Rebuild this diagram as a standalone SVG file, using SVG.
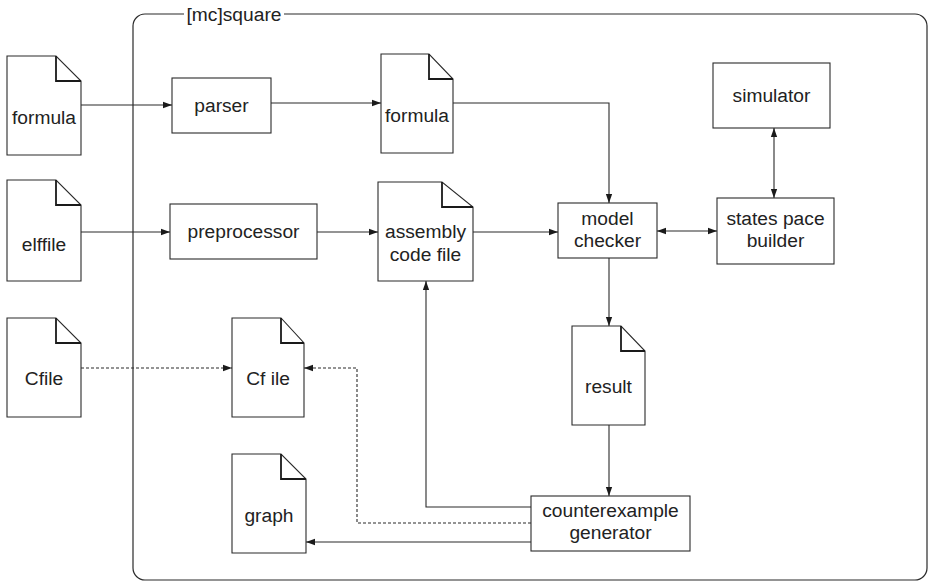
<svg xmlns="http://www.w3.org/2000/svg" width="929" height="581" viewBox="0 0 929 581">
  <style>
    .frame { fill: none; stroke: #2a2a2a; stroke-width: 1.2; }
    .box { fill: #fff; stroke: #2a2a2a; stroke-width: 1.1; }
    .doc { fill: #fff; stroke: #2a2a2a; stroke-width: 1.1; }
    .fold { fill: none; stroke: #1a1a1a; stroke-width: 1.8; }
    .lbl { font-family: "Liberation Sans", Arial, sans-serif; font-size: 19.2px; fill: #222; text-anchor: middle; }
    .edge { fill: none; stroke: #2a2a2a; stroke-width: 1.1; }
    .dash { stroke-dasharray: 3 2; }
  </style>
  <defs>
    <marker id="arr" viewBox="0 0 10 10" refX="10" refY="5" markerWidth="9" markerHeight="9" markerUnits="userSpaceOnUse" orient="auto-start-reverse">
      <path d="M0,1.5 L10,5 L0,8.5 Z" fill="#1a1a1a"/>
    </marker>
  </defs>

  <rect width="929" height="581" fill="#fff"/>

  <!-- system boundary -->
  <g id="mcsquare">
    <path class="frame" d="M184,14 H145 A12,12 0 0 0 133,26 V568 A12,12 0 0 0 145,580 H915 A12,12 0 0 0 927,568 V26 A12,12 0 0 0 915,14 H284"/>
    <text class="lbl" x="234" y="21">[mc]square</text>
  </g>

  <!-- connectors -->
  <g id="connectors">
    <path class="edge" d="M81,105 H172" marker-end="url(#arr)"/>
    <path class="edge" d="M271,103 H381" marker-end="url(#arr)"/>
    <path class="edge" d="M453,103 H609 V203" marker-end="url(#arr)"/>
    <path class="edge" d="M81,232 H170" marker-end="url(#arr)"/>
    <path class="edge" d="M317,232 H378" marker-end="url(#arr)"/>
    <path class="edge" d="M473,232 H558" marker-end="url(#arr)"/>
    <path class="edge" d="M657,231 H717" marker-start="url(#arr)" marker-end="url(#arr)"/>
    <path class="edge" d="M774,128 V198" marker-start="url(#arr)" marker-end="url(#arr)"/>
    <path class="edge" d="M609,258 V326" marker-end="url(#arr)"/>
    <path class="edge" d="M609,425 V496" marker-end="url(#arr)"/>
    <path class="edge" d="M531,507 H426 V281" marker-end="url(#arr)"/>
    <path class="edge dash" d="M531,523 H357 V368 H304" marker-end="url(#arr)"/>
    <path class="edge dash" d="M81,368 H232" marker-end="url(#arr)"/>
    <path class="edge" d="M531,542 H306" marker-end="url(#arr)"/>
  </g>

  <!-- input files -->
  <g id="formula-in">
    <path class="doc" d="M7,56 H56 L81,81 V155 H7 Z"/>
    <path class="fold" d="M56,56 V81 H81"/>
    <text class="lbl" x="44" y="124">formula</text>
  </g>
  <g id="elffile">
    <path class="doc" d="M7,180 H56 L81,205 V281 H7 Z"/>
    <path class="fold" d="M56,180 V205 H81"/>
    <text class="lbl" x="44" y="251">elffile</text>
  </g>
  <g id="cfile-in">
    <path class="doc" d="M7,318 H56 L81,343 V417 H7 Z"/>
    <path class="fold" d="M56,318 V343 H81"/>
    <text class="lbl" x="44" y="385">Cfile</text>
  </g>

  <!-- processing -->
  <g id="parser">
    <rect class="box" x="172" y="78" width="99" height="55"/>
    <text class="lbl" x="221.5" y="112">parser</text>
  </g>
  <g id="preprocessor">
    <rect class="box" x="170" y="204" width="147" height="55"/>
    <text class="lbl" x="243.5" y="238">preprocessor</text>
  </g>
  <g id="formula">
    <path class="doc" d="M381,54 H429 L453,79 V153 H381 Z"/>
    <path class="fold" d="M429,54 V79 H453"/>
    <text class="lbl" x="417" y="122">formula</text>
  </g>
  <g id="assembly">
    <path class="doc" d="M378,182 H442 L473,207 V281 H378 Z"/>
    <path class="fold" d="M442,182 V207 H473"/>
    <text class="lbl" x="425.5" y="238">assembly</text>
    <text class="lbl" x="425.5" y="261">code file</text>
  </g>
  <g id="model-checker">
    <rect class="box" x="558" y="203" width="99" height="55"/>
    <text class="lbl" x="607.5" y="225">model</text>
    <text class="lbl" x="607.5" y="247">checker</text>
  </g>
  <g id="simulator">
    <rect class="box" x="713" y="63" width="117" height="65"/>
    <text class="lbl" x="771.5" y="102">simulator</text>
  </g>
  <g id="statespace-builder">
    <rect class="box" x="717" y="198" width="117" height="66"/>
    <text class="lbl" x="775.5" y="225">states pace</text>
    <text class="lbl" x="775.5" y="247">builder</text>
  </g>
  <g id="result">
    <path class="doc" d="M572,326 H621 L645,351 V425 H572 Z"/>
    <path class="fold" d="M621,326 V351 H645"/>
    <text class="lbl" x="608.5" y="393">result</text>
  </g>
  <g id="cfile">
    <path class="doc" d="M232,318 H281 L304,343 V417 H232 Z"/>
    <path class="fold" d="M281,318 V343 H304"/>
    <text class="lbl" x="268" y="385">Cf ile</text>
  </g>
  <g id="graph">
    <path class="doc" d="M232,454 H281 L306,479 V553 H232 Z"/>
    <path class="fold" d="M281,454 V479 H306"/>
    <text class="lbl" x="269" y="522">graph</text>
  </g>
  <g id="counterexample-generator">
    <rect class="box" x="531" y="496" width="159" height="55"/>
    <text class="lbl" x="610.5" y="517">counterexample</text>
    <text class="lbl" x="610.5" y="539">generator</text>
  </g>
</svg>
